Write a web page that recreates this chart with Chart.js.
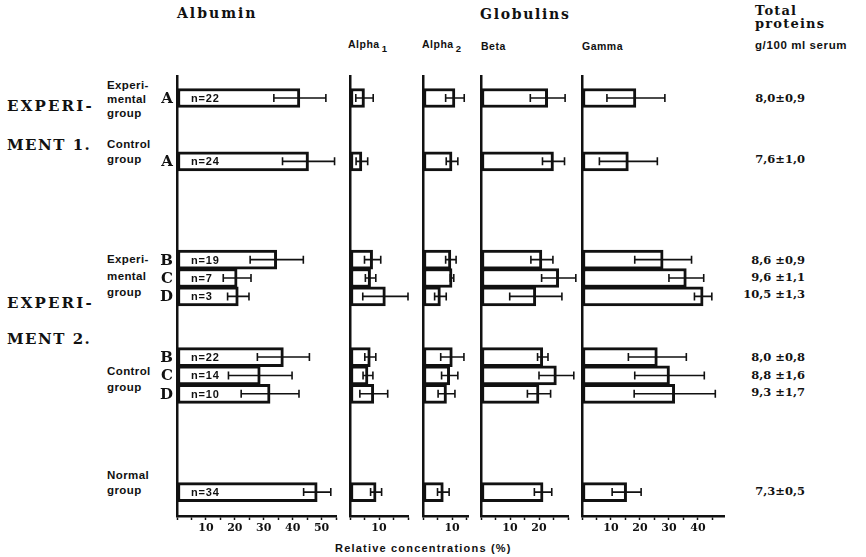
<!DOCTYPE html>
<html>
<head>
<meta charset="utf-8">
<script src="https://cdn.jsdelivr.net/npm/chart.js@4.4.1/dist/chart.umd.min.js"></script>
<style>
body { margin: 0; background: #fff; }
#page { position: relative; width: 866px; height: 557px; overflow: hidden; }
canvas { position: absolute; }
.t { position: absolute; white-space: nowrap; line-height: 1; color: #111; transform: translateY(-50%); }
.r { transform: translate(-100%, -50%); }
.serif { font-family: "DejaVu Serif", serif; font-weight: bold; }
.sans { font-family: "Liberation Sans", Arial, sans-serif; font-weight: bold; }
.head { font-size: 14px; letter-spacing: 2px; }
.exp { font-size: 15px; letter-spacing: 2.2px; }
.grp { font-size: 11.5px; letter-spacing: 0.4px; }
.let { font-size: 15px; }
.tot { font-size: 11.5px; }
.sub { font-size: 10.5px; letter-spacing: 0.5px; }
sub { font-size: 9.5px; vertical-align: -4px; margin-left: 2px; }
</style>
</head>
<body>
<div id="page">
  <div class="t serif head" style="left:177px;top:13px">Albumin</div>
  <div class="t serif head" style="left:480px;top:14px;letter-spacing:1.7px">Globulins</div>
  <div class="t serif" style="left:755px;top:10px;font-size:13px;letter-spacing:1.2px">Total</div>
  <div class="t serif" style="left:755px;top:23px;font-size:13px;letter-spacing:1.2px">proteins</div>
  <div class="t sans sub" style="left:755px;top:46px;font-size:11.5px;letter-spacing:0.6px">g/100 ml serum</div>
  <div class="t sans sub" style="left:348px;top:46px">Alpha<sub>1</sub></div>
  <div class="t sans sub" style="left:422px;top:46px">Alpha<sub>2</sub></div>
  <div class="t sans sub" style="left:481px;top:46px">Beta</div>
  <div class="t sans sub" style="left:582px;top:46px">Gamma</div>

  <div class="t serif exp" style="left:7px;top:106px">EXPERI-</div>
  <div class="t serif exp" style="left:7px;top:145px;letter-spacing:1.5px">MENT 1.</div>
  <div class="t serif exp" style="left:7px;top:303px">EXPERI-</div>
  <div class="t serif exp" style="left:7px;top:339px;letter-spacing:1.5px">MENT 2.</div>

  <div class="t sans grp" style="left:107px;top:86px">Experi-</div>
  <div class="t sans grp" style="left:107px;top:100px">mental</div>
  <div class="t sans grp" style="left:107px;top:114px">group</div>
  <div class="t sans grp" style="left:107px;top:145px">Control</div>
  <div class="t sans grp" style="left:107px;top:160px">group</div>
  <div class="t sans grp" style="left:107px;top:260px">Experi-</div>
  <div class="t sans grp" style="left:107px;top:277px">mental</div>
  <div class="t sans grp" style="left:107px;top:293px">group</div>
  <div class="t sans grp" style="left:107px;top:372px">Control</div>
  <div class="t sans grp" style="left:107px;top:388px">group</div>
  <div class="t sans grp" style="left:107px;top:476px">Normal</div>
  <div class="t sans grp" style="left:107px;top:491px">group</div>

  <div class="t sans" style="left:335px;top:548px;font-size:11px;letter-spacing:1.2px">Relative concentrations (%)</div>
</div>
<script>
// rows, top to bottom
const groups = [
    "Exp. 1 experimental A", "Exp. 1 control A",
    "Exp. 2 experimental B", "Exp. 2 experimental C", "Exp. 2 experimental D",
    "Exp. 2 control B", "Exp. 2 control C", "Exp. 2 control D",
    "Normal group"
];
const rowLetters = ["A", "A", "B", "C", "D", "B", "C", "D", ""];
const nSizes = [22, 24, 19, 7, 3, 22, 14, 10, 34];

// relative concentrations (%) : mean and standard deviation
const albuminMean = [42.5, 45.5, 34.5, 20.8, 21.2, 36.8, 28.8, 32.2, 48.5];
const albuminSd   = [9, 9, 9.2, 4.8, 3.7, 9, 11, 10, 4.7];
const alpha1Mean  = [5, 4.1, 7.8, 7.1, 12.2, 7, 6.2, 8.2, 9];
const alpha1Sd    = [3, 2, 2.8, 1.8, 7.8, 1.9, 1.7, 4.8, 1.9];
const alpha2Mean  = [11, 10, 9.6, 10, 6, 10.1, 9.2, 8.1, 7];
const alpha2Sd    = [3.2, 2, 1.8, 0.6, 2, 4, 2.8, 2.9, 2];
const betaMean    = [23, 25, 21, 26.8, 18.9, 21.3, 26, 20, 21.4];
const betaSd      = [6, 3.8, 3.8, 5.9, 9, 1.8, 6, 4, 3];
const gammaMean   = [18.6, 16, 28, 36, 41.8, 26, 30.2, 32, 15.4];
const gammaSd     = [10, 10, 9.8, 6, 3, 10, 12, 14, 5];

// total proteins, g/100 ml serum
const totalProteins = ["8,0±0,9", "7,6±1,0", "8,6 ±0,9", "9,6 ±1,1", "10,5 ±1,3",
                       "8,0 ±0,8", "8,8 ±1,6", "9,3 ±1,7", "7,3±0,5"];

// tick labels per panel
const albuminTicks = [10, 20, 30, 40, 50];
const alpha1Ticks = [10];
const alpha2Ticks = [10];
const betaTicks = [10, 20];
const gammaTicks = [10, 20, 30, 40];

// layout
const rowPos = [1.25, 4.7, 10.05, 11.05, 12.05, 15.35, 16.35, 17.35, 22.7];
const totalY = [99, 160, 261, 278, 295, 358, 376, 393, 492];
const PX = 2.89;
const TOP = 75, PLOT_H = 441, AXIS_H = 26, PAD_L = 4, PAD_R = 16;
const INK = "#111";

const page = document.getElementById("page");

const panels = [
    { mean: albuminMean, sd: albuminSd, max: 55, x0: 177, ticks: albuminTicks, n: true },
    { mean: alpha1Mean, sd: alpha1Sd, max: 20, x0: 350, ticks: alpha1Ticks },
    { mean: alpha2Mean, sd: alpha2Sd, max: 15.5, x0: 423, ticks: alpha2Ticks },
    { mean: betaMean, sd: betaSd, max: 30, x0: 480.5, ticks: betaTicks },
    { mean: gammaMean, sd: gammaSd, max: 49, x0: 582, ticks: gammaTicks }
];

const errorBars = {
    id: "errorBars",
    afterDatasetsDraw(chart, args, opts) {
        const ctx = chart.ctx;
        const x = chart.scales.x;
        const bars = chart.getDatasetMeta(0).data;
        ctx.save();
        ctx.strokeStyle = INK;
        ctx.lineWidth = 1.6;
        bars.forEach((bar, i) => {
            const m = opts.mean[i], s = opts.sd[i];
            const x1 = x.getPixelForValue(m - s);
            const x2 = x.getPixelForValue(m + s);
            const y = bar.y;
            ctx.beginPath();
            ctx.moveTo(x1, y); ctx.lineTo(x2, y);
            ctx.moveTo(x1, y - 4); ctx.lineTo(x1, y + 4);
            ctx.moveTo(x2, y - 4); ctx.lineTo(x2, y + 4);
            ctx.stroke();
        });
        if (opts.n) {
            ctx.fillStyle = INK;
            ctx.font = 'bold 11px "Liberation Sans", Arial, sans-serif';
            ctx.letterSpacing = "0.8px";
            ctx.textBaseline = "middle";
            bars.forEach((bar, i) => {
                ctx.fillText("n=" + nSizes[i], chart.chartArea.left + 14, bar.y + 1);
            });
        }
        ctx.restore();
    }
};

panels.forEach(p => {
    const cv = document.createElement("canvas");
    cv.width = Math.round(p.max * PX) + PAD_L + PAD_R;
    cv.height = PLOT_H + AXIS_H;
    cv.style.left = (Math.round(p.x0) - PAD_L) + "px";
    cv.style.top = TOP + "px";
    page.appendChild(cv);

    new Chart(cv, {
        type: "bar",
        data: {
            datasets: [{
                data: p.mean.map((m, i) => ({ x: m, y: rowPos[i] })),
                backgroundColor: "#fff",
                borderColor: INK,
                borderWidth: 3,
                borderSkipped: false,
                barThickness: 19
            }]
        },
        options: {
            indexAxis: "y",
            responsive: false,
            animation: false,
            devicePixelRatio: 1,
            layout: { padding: { left: PAD_L, right: PAD_R, top: 0, bottom: 0 } },
            plugins: {
                legend: { display: false },
                tooltip: { enabled: false },
                errorBars: { mean: p.mean, sd: p.sd, n: !!p.n }
            },
            scales: {
                x: {
                    type: "linear",
                    min: 0,
                    max: p.max,
                    afterBuildTicks: s => {
                        s.ticks = [];
                        for (let v = 0; v <= p.max; v += 5) s.ticks.push({ value: v });
                    },
                    afterFit: s => { s.height = AXIS_H; },
                    grid: {
                        drawOnChartArea: false,
                        drawTicks: true,
                        tickLength: 4,
                        tickWidth: 1.5,
                        tickColor: INK,
                        color: INK
                    },
                    border: { display: true, color: INK, width: 2.5 },
                    ticks: {
                        autoSkip: false,
                        maxRotation: 0,
                        minRotation: 0,
                        padding: 2,
                        color: INK,
                        font: { family: "DejaVu Serif", weight: "bold", size: 11 },
                        callback: v => p.ticks.includes(v) ? String(v) : ""
                    }
                },
                y: {
                    type: "linear",
                    reverse: true,
                    offset: false,
                    min: 0,
                    max: 24,
                    afterFit: s => { s.width = 0; },
                    grid: { display: false, drawTicks: false },
                    ticks: { display: false },
                    border: { display: true, color: INK, width: 2.5 }
                }
            }
        },
        plugins: [errorBars]
    });
});

// row letters and total proteins column
rowLetters.forEach((l, i) => {
    if (!l) return;
    const d = document.createElement("div");
    d.className = "t r serif let";
    d.style.left = "173px";
    d.style.top = (TOP + (rowPos[i] / 24) * PLOT_H) + "px";
    d.textContent = l;
    page.appendChild(d);
});
totalProteins.forEach((s, i) => {
    const d = document.createElement("div");
    d.className = "t r serif tot";
    d.style.left = "805px";
    d.style.top = totalY[i] + "px";
    d.textContent = s;
    page.appendChild(d);
});
</script>
</body>
</html>
